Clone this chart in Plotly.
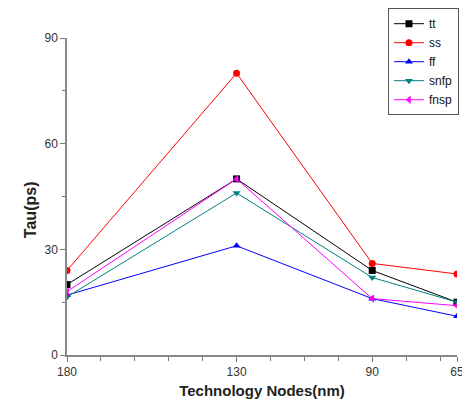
import plotly.graph_objects as go

nodes = [180, 130, 90, 65]
tick_labels = ["180", "130", "90", "65"]
tt = [20, 50, 24, 15]
ss = [24, 80, 26, 23]
ff = [17, 31, 16, 11]
snfp = [16.5, 46, 22, 15]
fnsp = [18, 50, 16, 14]

series = [
    ("tt", tt, "#000000", "square"),
    ("ss", ss, "#ff0000", "circle"),
    ("ff", ff, "#0000ff", "triangle-up"),
    ("snfp", snfp, "#008080", "triangle-down"),
    ("fnsp", fnsp, "#ff00ff", "triangle-left"),
]

fig = go.Figure()
for name, vals, col, sym in series:
    fig.add_trace(go.Scatter(
        x=nodes, y=vals, name=name, mode="lines+markers",
        line=dict(color=col, width=1),
        marker=dict(color=col, symbol=sym, size=7),
    ))

axis_font = dict(family="Liberation Sans, Arial, sans-serif", size=12, color="#333333")
fig.update_layout(
    width=462, height=403,
    margin=dict(l=59, r=13, t=30, b=56, autoexpand=False),
    paper_bgcolor="white", plot_bgcolor="white",
    font=dict(family="Liberation Sans, Arial, sans-serif", size=12, color="#222222"),
    showlegend=True,
    legend=dict(
        x=0.823, y=1.094, xanchor="left", yanchor="top",
        bordercolor="#555555", borderwidth=1, bgcolor="white",
        font=dict(size=12, color="#111111"),
        tracegroupgap=0,
    ),
    xaxis=dict(
        range=[180, 65], autorange=False,
        tickmode="array", tickvals=nodes, ticktext=tick_labels,
        ticks="outside", ticklen=5, tickcolor="#777777",
        showline=True, linecolor="#888888", linewidth=1.5,
        showgrid=False, zeroline=False, tickfont=axis_font,
        minor=dict(tickmode="linear", tick0=180, dtick=10, ticks="outside",
                   ticklen=4, tickcolor="#777777", showgrid=False),
        title=dict(text="<b>Technology Nodes(nm)</b>",
                   font=dict(size=15, color="#222222"), standoff=7),
    ),
    yaxis=dict(
        range=[0, 90], autorange=False,
        tickmode="array", tickvals=[0, 30, 60, 90],
        ticks="outside", ticklen=5, tickcolor="#777777",
        showline=True, linecolor="#888888", linewidth=1.5,
        showgrid=False, zeroline=False, tickfont=axis_font,
        minor=dict(tickmode="array", tickvals=[15, 45, 75], ticks="outside",
                   ticklen=3, tickcolor="#777777", showgrid=False),
    ),
    annotations=[dict(
        text="<b>Tau(ps)</b>", textangle=-90, showarrow=False,
        xref="paper", yref="paper", x=-0.095, y=0.46,
        xanchor="center", yanchor="middle",
        font=dict(size=16, color="#222222"),
    )],
)

fig.write_html("out.html")
